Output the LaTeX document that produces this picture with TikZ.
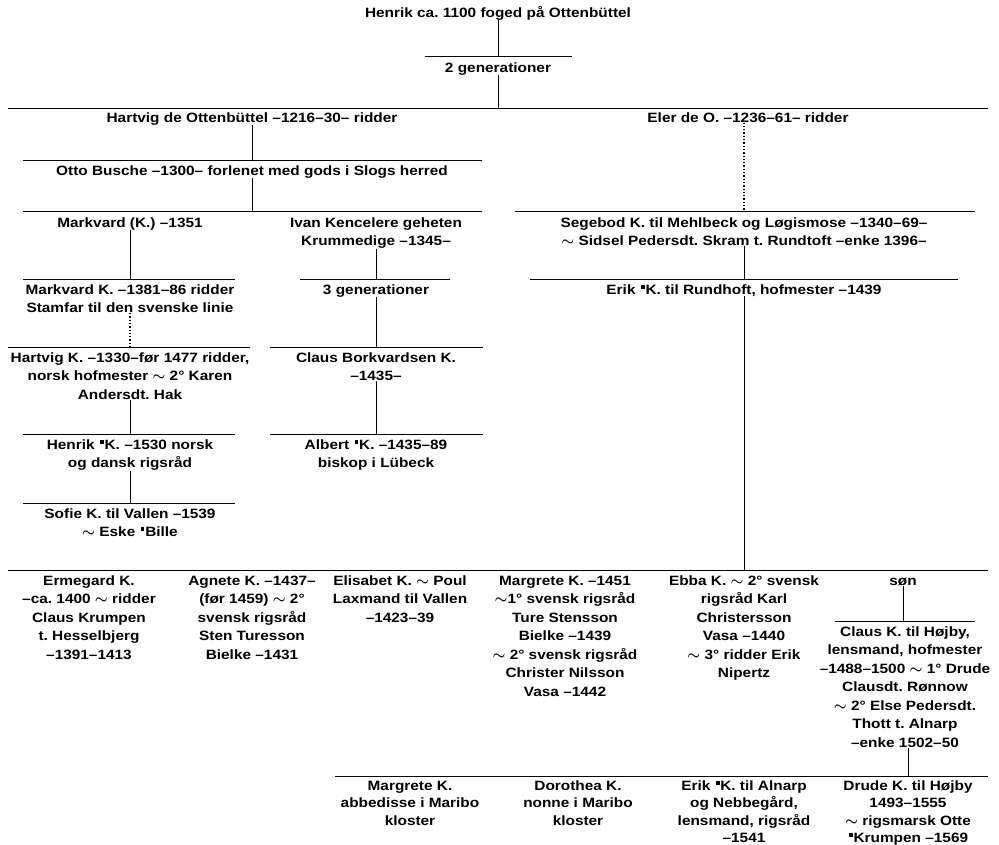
\documentclass[tikz,border=0pt]{standalone}
\usepackage{fontspec}
\setmainfont[FakeStretch=1.14]{Liberation Sans}
\usepackage{amsmath,amsbsy}
\newcommand\sq{\kern0.08em\raisebox{0.42em}{\rule{0.28em}{0.28em}}\kern0.06em}
\newcommand\marr{$\boldsymbol{\sim}$}
\newcommand\tstr{\rule{0pt}{13pt}}
\frenchspacing
\tikzset{
  person/.style={align=center, anchor=north, inner sep=0pt, font=\bfseries\fontsize{13.5}{18.5}\selectfont},
  lastrow/.style={person, font=\bfseries\fontsize{13.5}{17.5}\selectfont},
  bar/.style={line width=1pt},
  drop/.style={line width=1pt},
  ddrop/.style={line width=1.3pt, dotted},
}
\begin{document}
\begin{tikzpicture}[x=1pt,y=-1pt]
\useasboundingbox (0,0) rectangle (999,844);
% bars
\coordinate (aL) at (425,56);  \coordinate (aR) at (572,56);
\coordinate (bL) at (8,108);   \coordinate (bR) at (988,108);
\coordinate (cL) at (23,160);  \coordinate (cR) at (482,160);
\coordinate (dL) at (515,211); \coordinate (dR) at (975,211);
\coordinate (eL) at (23,211);  \coordinate (eR) at (482,211);
\coordinate (fL) at (23,279);  \coordinate (fR) at (235,279);
\coordinate (gL) at (300,279); \coordinate (gR) at (450,279);
\coordinate (hL) at (530,279); \coordinate (hR) at (958,279);
\coordinate (iL) at (8,347);   \coordinate (iR) at (250,347);
\coordinate (jL) at (270,347); \coordinate (jR) at (483,347);
\coordinate (kL) at (8,570);   \coordinate (kR) at (988,570);
\coordinate (lL) at (23,434);  \coordinate (lR) at (235,434);
\coordinate (mL) at (270,434); \coordinate (mR) at (483,434);
\coordinate (nL) at (23,503);  \coordinate (nR) at (235,503);
\coordinate (oL) at (835,621); \coordinate (oR) at (975,621);
\coordinate (pL) at (335,776); \coordinate (pR) at (988,776);
\foreach \b in {a,b,c,d,e,f,g,h,i,j,k,l,m,n,o,p} \draw[bar] (\b L) -- (\b R);

% people
\node[person] (henrik) at (498,4) {\tstr Henrik ca. 1100 foged på Ottenbüttel};
\node[person] (gen2) at (498,59) {\tstr 2 generationer};
\node[person] (hartvig) at (252,109) {\tstr Hartvig de Ottenbüttel --1216--30-- ridder};
\node[person] (eler) at (748,109) {\tstr Eler de O. --1236--61-- ridder};
\node[person] (otto) at (252,162) {\tstr Otto Busche --1300-- forlenet med gods i Slogs herred};
\node[person] (markvard) at (130,214) {\tstr Markvard (K.) --1351};
\node[person] (ivan) at (376,214) {\tstr Ivan Kencelere geheten\\Krummedige --1345--};
\node[person] (segebod) at (744,214) {\tstr Segebod K. til Mehlbeck og Løgismose --1340--69--\\\marr\ Sidsel Pedersdt. Skram t. Rundtoft --enke 1396--};
\node[person] (markvard2) at (130,281) {\tstr Markvard K. --1381--86 ridder\\Stamfar til den svenske linie};
\node[person] (gen3) at (376,281) {\tstr 3 generationer};
\node[person] (erik) at (744,281) {\tstr Erik \sq K. til Rundhoft, hofmester --1439};
\node[person] (hartvig2) at (130,349) {\tstr Hartvig K. --1330--før 1477 ridder,\\norsk hofmester \marr\ 2° Karen\\Andersdt. Hak};
\node[person] (claus) at (376,349) {\tstr Claus Borkvardsen K.\\--1435--};
\node[person] (henrik2) at (130,436) {\tstr Henrik \sq K. --1530 norsk\\og dansk rigsråd};
\node[person] (albert) at (376,436) {\tstr Albert \sq K. --1435--89\\biskop i Lübeck};
\node[person] (sofie) at (130,505) {\tstr Sofie K. til Vallen --1539\\\marr\ Eske \sq Bille};
\node[person] (ermegard) at (89,572) {\tstr Ermegard K.\\--ca. 1400 \marr\ ridder\\Claus Krumpen\\t. Hesselbjerg\\--1391--1413};
\node[person] (agnete) at (252,572) {\tstr Agnete K. --1437--\\(før 1459) \marr\ 2°\\svensk rigsråd\\Sten Turesson\\Bielke --1431};
\node[person] (elisabet) at (400,572) {\tstr Elisabet K. \marr\ Poul\\Laxmand til Vallen\\--1423--39};
\node[person] (margrete) at (565,572) {\tstr Margrete K. --1451\\\marr 1° svensk rigsråd\\Ture Stensson\\Bielke --1439\\\marr\ 2° svensk rigsråd\\Christer Nilsson\\Vasa --1442};
\node[person] (ebba) at (744,572) {\tstr Ebba K. \marr\ 2° svensk\\rigsråd Karl\\Christersson\\Vasa --1440\\\marr\ 3° ridder Erik\\Nipertz};
\node[person] (son) at (903,572) {\tstr søn};
\node[person] (clausk) at (905,623) {\tstr Claus K. til Højby,\\lensmand, hofmester\\--1488--1500 \marr\ 1° Drude\\Clausdt. Rønnow\\\marr\ 2° Else Pedersdt.\\Thott t. Alnarp\\--enke 1502--50};
\node[lastrow] (margrete2) at (410,777) {\tstr Margrete K.\\abbedisse i Maribo\\kloster};
\node[lastrow] (dorothea) at (578,777) {\tstr Dorothea K.\\nonne i Maribo\\kloster};
\node[lastrow] (erik2) at (744,777) {\tstr Erik \sq K. til Alnarp\\og Nebbegård,\\lensmand, rigsråd\\--1541};
\node[lastrow] (drude) at (908,777) {\tstr Drude K. til Højby\\1493--1555\\\marr\ rigsmarsk Otte\\\sq Krumpen --1569};

% descent lines
\draw[drop] (henrik.south) -- (henrik.south |- aL);
\draw[drop] (gen2.south) -- (gen2.south |- bL);
\draw[drop] (hartvig.south) -- (hartvig.south |- cL);
\draw[ddrop] (eler.south -| segebod.north) -- (segebod.north |- dL);
\draw[drop] (otto.south) -- (otto.south |- eL);
\draw[drop] (markvard.south) -- (markvard.south |- fL);
\draw[drop] (ivan.south) -- (ivan.south |- gL);
\draw[drop] (segebod.south) -- (segebod.south |- hL);
\draw[ddrop] (markvard2.south) -- (markvard2.south |- iL);
\draw[drop] (gen3.south) -- (gen3.south |- jL);
\draw[drop] (erik.south) -- (erik.south |- kL);
\draw[drop] (hartvig2.south) -- (hartvig2.south |- lL);
\draw[drop] (claus.south) -- (claus.south |- mL);
\draw[drop] (henrik2.south) -- (henrik2.south |- nL);
\draw[drop] (son.south) -- (son.south |- oL);
\draw[drop] (clausk.south -| drude.north) -- (drude.north |- pL);
\end{tikzpicture}
\end{document}
